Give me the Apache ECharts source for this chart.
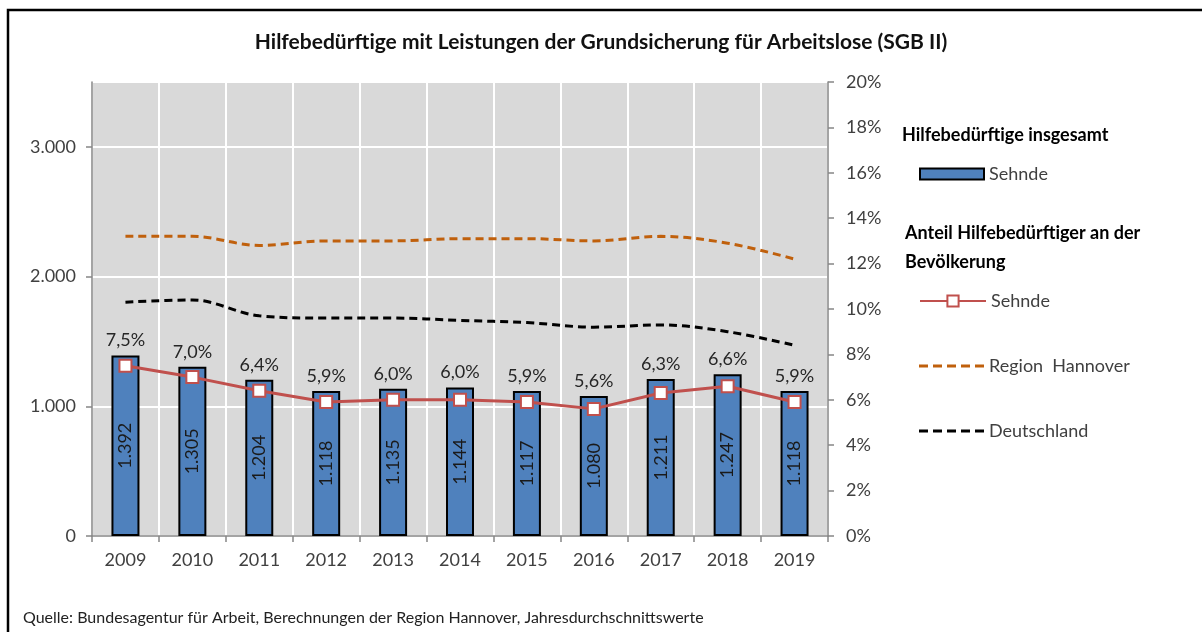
<!DOCTYPE html>
<html>
<head>
<meta charset="utf-8">
<script src="https://cdn.jsdelivr.net/npm/echarts@6/dist/echarts.min.js"></script>
<style>
html,body{margin:0;padding:0;background:#fff;}
#main{width:1202px;height:632px;}
</style>
</head>
<body>
<div id="main"></div>
<script>
var years = ['2009','2010','2011','2012','2013','2014','2015','2016','2017','2018','2019'];
// Hilfebedürftige insgesamt, Sehnde (Anzahl)
var sehndeAnzahl = [1392, 1305, 1204, 1118, 1135, 1144, 1117, 1080, 1211, 1247, 1118];
// Anteil an der Bevölkerung in %
var sehndeAnteil = [7.5, 7.0, 6.4, 5.9, 6.0, 6.0, 5.9, 5.6, 6.3, 6.6, 5.9];
var hannoverAnteil = [13.2, 13.2, 12.8, 13.0, 13.0, 13.1, 13.1, 13.0, 13.2, 12.9, 12.2];
var deutschlandAnteil = [10.3, 10.4, 9.7, 9.6, 9.6, 9.5, 9.4, 9.2, 9.3, 9.0, 8.4];

var FONT = 'Lato, "Open Sans", sans-serif';
// dashed line legend icon (5 dashes)
var DASH_ICON = 'path://M0,0h9v3h-9z M14,0h9v3h-9z M28,0h9v3h-9z M42,0h9v3h-9z M56,0h9v3h-9z';

function formatDE(v){
    var s = String(Math.round(v));
    return s.replace(/\B(?=(\d{3})+(?!\d))/g, '.');
}
function formatPct(v){
    return v.toFixed(1).replace('.', ',') + '%';
}

var legendText = { fontSize: 18, color: '#404040', fontFamily: FONT };

var myChart = echarts.init(document.getElementById('main'));
var option = {
    animation: false,
    backgroundColor: '#fff',
    textStyle: { fontFamily: FONT },
    grid: {
        left: 92, right: 374, top: 82, bottom: 96,
        show: true,
        backgroundColor: '#d9d9d9',
        borderWidth: 0
    },
    graphic: [
        {
            type: 'rect', silent: true,
            shape: { x: 8, y: 10, width: 1230, height: 660 },
            style: { fill: 'none', stroke: '#000', lineWidth: 2.5 }
        },
        {
            type: 'text', left: 'center', top: 32,
            style: { text: 'Hilfebedürftige mit Leistungen der Grundsicherung für Arbeitslose (SGB II)',
                     font: 'bold 21px ' + FONT, fill: '#111' }
        },
        {
            type: 'text', left: 902, top: 126,
            style: { text: 'Hilfebedürftige insgesamt', font: 'bold 18px ' + FONT, fill: '#000' }
        },
        {
            type: 'text', left: 905, top: 224,
            style: { text: 'Anteil Hilfebedürftiger an der', font: 'bold 18px ' + FONT, fill: '#000' }
        },
        {
            type: 'text', left: 905, top: 253,
            style: { text: 'Bevölkerung', font: 'bold 18px ' + FONT, fill: '#000' }
        },
        {
            type: 'text', left: 23, top: 610,
            style: { text: 'Quelle: Bundesagentur für Arbeit, Berechnungen der Region Hannover, Jahresdurchschnittswerte',
                     font: '16px ' + FONT, fill: '#222' }
        }
    ],
    legend: [
        { data: [{ name: 'Sehnde ', icon: 'rect' }], left: 919, top: 165, padding: 0, itemWidth: 64, itemHeight: 11,
          textStyle: legendText },
        { data: ['Sehnde'], left: 919, top: 292, padding: 0, itemWidth: 66, itemHeight: 14,
          textStyle: legendText },
        { data: [{ name: 'Region  Hannover', icon: DASH_ICON }], left: 919, top: 357, padding: 0,
          itemWidth: 65, itemHeight: 3, textStyle: legendText },
        { data: [{ name: 'Deutschland', icon: DASH_ICON }], left: 919, top: 422, padding: 0,
          itemWidth: 65, itemHeight: 3, textStyle: legendText }
    ],
    xAxis: {
        type: 'category',
        data: years,
        axisLine: { lineStyle: { color: '#868686', width: 1.5 } },
        axisTick: { show: true, length: 6, lineStyle: { color: '#868686', width: 1.5 } },
        axisLabel: { fontSize: 18, color: '#404040', margin: 15 },
        splitLine: { show: true, lineStyle: { color: '#fff', width: 2 } }
    },
    yAxis: [
        {
            type: 'value', min: 0, max: 3500, interval: 1000,
            axisLine: { show: true, lineStyle: { color: '#868686', width: 1.5 } },
            axisTick: { show: true, length: 6, lineStyle: { color: '#868686', width: 1.5 } },
            axisLabel: { fontSize: 18, color: '#404040', margin: 16, showMaxLabel: false,
                         formatter: function (v) { return formatDE(v); } },
            splitLine: { show: true, lineStyle: { color: '#fff', width: 2 } }
        },
        {
            type: 'value', min: 0, max: 20, interval: 2,
            position: 'right',
            axisLine: { show: true, lineStyle: { color: '#868686', width: 1.5 } },
            axisTick: { show: true, length: 6, lineStyle: { color: '#868686', width: 1.5 } },
            axisLabel: { fontSize: 18, color: '#404040', margin: 18,
                         formatter: function (v) { return v + '%'; } },
            splitLine: { show: false }
        }
    ],
    series: [
        {
            name: 'Sehnde ',
            type: 'bar',
            data: sehndeAnzahl,
            barWidth: 28,
            z: 2,
            itemStyle: { color: '#4f81bd', borderColor: '#000', borderWidth: 2 },
            label: {
                show: true, position: 'inside', rotate: 90,
                fontSize: 18, color: '#1a1a1a', fontFamily: FONT,
                formatter: function (p) { return formatDE(p.value); }
            }
        },
        {
            name: 'pctLabels',
            type: 'bar',
            data: sehndeAnzahl,
            barWidth: 28,
            barGap: '-100%',
            silent: true,
            z: 1,
            itemStyle: { color: 'rgba(0,0,0,0)' },
            label: {
                show: true, position: 'top', distance: 6,
                fontSize: 18, color: '#262626', fontFamily: FONT,
                formatter: function (p) { return formatPct(sehndeAnteil[p.dataIndex]); }
            }
        },
        {
            name: 'Region  Hannover',
            type: 'line',
            yAxisIndex: 1,
            data: hannoverAnteil,
            smooth: 0.35,
            symbol: 'none',
            z: 3,
            itemStyle: { color: '#c0600c' },
            lineStyle: { color: '#c0600c', width: 3, type: [8, 5] }
        },
        {
            name: 'Deutschland',
            type: 'line',
            yAxisIndex: 1,
            data: deutschlandAnteil,
            smooth: 0.35,
            symbol: 'none',
            z: 3,
            itemStyle: { color: '#000' },
            lineStyle: { color: '#000', width: 3, type: [8, 5] }
        },
        {
            name: 'Sehnde',
            type: 'line',
            yAxisIndex: 1,
            data: sehndeAnteil,
            symbol: 'rect',
            symbolSize: 12,
            z: 4,
            itemStyle: { color: '#fff', borderColor: '#c0504d', borderWidth: 2 },
            lineStyle: { color: '#c0504d', width: 3 }
        }
    ]
};
myChart.setOption(option);
</script>
</body>
</html>
